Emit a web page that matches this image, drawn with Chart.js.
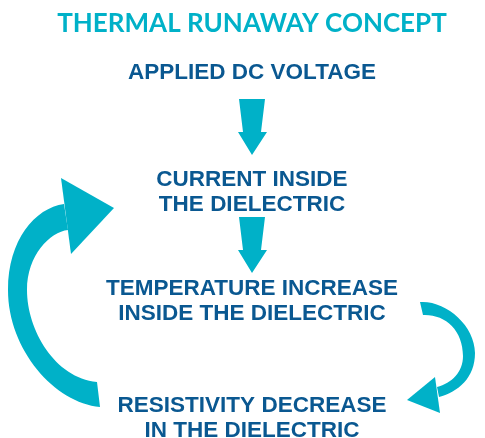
<!DOCTYPE html>
<html>
<head>
<meta charset="utf-8">
<script src="https://cdn.jsdelivr.net/npm/chart.js@4"></script>
<style>
  html, body { margin: 0; padding: 0; background: #fff; }
  #wrap { width: 485px; height: 438px; }
</style>
</head>
<body>
<div id="wrap"><canvas id="chart"></canvas></div>
<script>
// diagram content
const chartTitle = 'THERMAL RUNAWAY CONCEPT';
const stepLabels = [
  ['APPLIED DC VOLTAGE'],
  ['CURRENT INSIDE', 'THE DIELECTRIC'],
  ['TEMPERATURE INCREASE', 'INSIDE THE DIELECTRIC'],
  ['RESISTIVITY DECREASE', 'IN THE DIELECTRIC']
];
const stepX = [252, 252, 252, 252];
const stepY = [70.8, 190.5, 299, 416.5];

const CYAN = '#00b1c8';
const NAVY = '#0a5891';
const LINE_GAP = 25;

// straight arrows between steps: [shaft top, head base, tip]
const downArrows = [[99, 132, 155], [217, 250, 273]];

// curved loop arrows (scale units), body then head
const loopArrows = [
  { // temperature -> resistivity, right side
    body: [['M', 420, 302], ['C', 445, 300, 475, 325, 475, 353], ['C', 475, 378, 458, 392, 439, 397],
           ['L', 437, 387], ['C', 452, 383, 463, 372, 463, 356], ['C', 463, 330, 445, 314, 423, 315]],
    head: [['M', 435, 377], ['L', 407, 400], ['L', 440, 413]]
  },
  { // resistivity -> current, left side
    body: [['M', 100, 407], ['C', 55, 403, 8, 350, 8, 290], ['C', 8, 240, 35, 208, 64, 204],
           ['L', 68, 230], ['C', 50, 232, 27, 255, 27, 290], ['C', 27, 330, 55, 378, 97, 382]],
    head: [['M', 61, 178], ['L', 114, 208], ['L', 71, 254]]
  }
];

const diagram = {
  id: 'diagram',
  afterDatasetsDraw(chart) {
    const { ctx, scales: { x, y } } = chart;
    const px = v => x.getPixelForValue(v);
    const py = v => y.getPixelForValue(v);

    const fillPath = path => {
      ctx.beginPath();
      path.forEach(([cmd, ...p]) => {
        const q = [];
        for (let i = 0; i < p.length; i += 2) q.push(px(p[i]), py(p[i + 1]));
        if (cmd === 'M') ctx.moveTo(...q);
        else if (cmd === 'L') ctx.lineTo(...q);
        else ctx.bezierCurveTo(...q);
      });
      ctx.closePath();
      ctx.fill();
    };

    ctx.save();
    ctx.fillStyle = CYAN;

    const cx = stepX[0];
    downArrows.forEach(([top, base, tip]) => {
      fillPath([['M', cx - 13, top], ['L', cx + 13, top], ['L', cx + 9, base], ['L', cx + 15, base],
                ['L', cx, tip], ['L', cx - 14, base], ['L', cx - 9, base]]);
    });

    loopArrows.forEach(a => {
      fillPath(a.body);
      fillPath(a.head);
    });

    // step labels on the dataset points
    const meta = chart.getDatasetMeta(0);
    ctx.fillStyle = NAVY;
    ctx.font = 'bold 22.5px "Liberation Sans", Arial, sans-serif';
    ctx.textAlign = 'center';
    ctx.textBaseline = 'alphabetic';
    meta.data.forEach((pt, i) => {
      const lines = stepLabels[i];
      lines.forEach((txt, j) => {
        const off = (j - (lines.length - 1) / 2) * LINE_GAP;
        ctx.fillText(txt, pt.x, py(stepY[i] + off) + 8);
      });
    });
    ctx.restore();
  }
};

new Chart(document.getElementById('chart'), {
  type: 'scatter',
  data: {
    datasets: [{
      data: stepX.map((v, i) => ({ x: v, y: stepY[i] })),
      pointRadius: 0,
      pointHoverRadius: 0
    }]
  },
  options: {
    responsive: true,
    maintainAspectRatio: false,
    animation: false,
    events: [],
    layout: { padding: { left: 19, right: 0, top: 0, bottom: 0 } },
    scales: {
      x: { type: 'linear', display: false, min: 19, max: 485 },
      y: { type: 'linear', display: false, reverse: true, min: 44, max: 438 }
    },
    plugins: {
      legend: { display: false },
      tooltip: { enabled: false },
      title: {
        display: true,
        text: chartTitle,
        color: CYAN,
        font: { family: 'Lato', size: 26, weight: 'bold', lineHeight: 1.2 },
        padding: { top: 8, bottom: 4.8 }
      }
    }
  },
  plugins: [diagram]
});
</script>
</body>
</html>
